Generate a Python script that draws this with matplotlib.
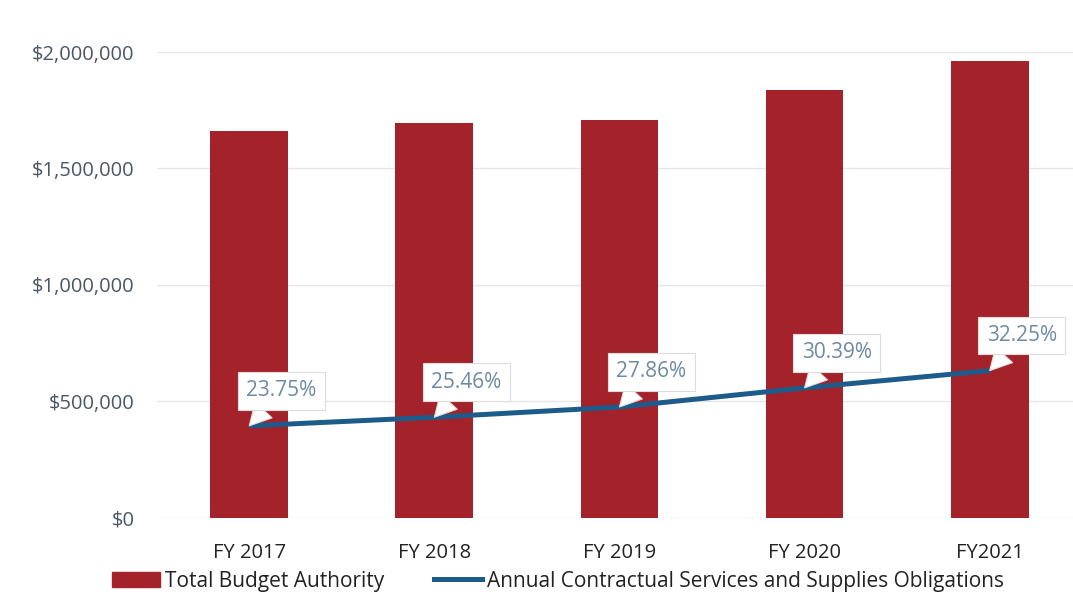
import matplotlib.pyplot as plt
import matplotlib.ticker as mticker
from matplotlib.patches import Patch
from matplotlib.lines import Line2D

# values
years = ["FY 2017", "FY 2018", "FY 2019", "FY 2020", "FY2021"]
budget = [1661000, 1695000, 1708000, 1837000, 1961000]
obligations = [395000, 432000, 476000, 558000, 632000]
pct_labels = ["23.75%", "25.46%", "27.86%", "30.39%", "32.25%"]

bar_color = "#a4222a"
line_color = "#1d5c8a"
tick_color = "#4a5866"
label_color = "#6d8aa3"

plt.rcParams["font.family"] = ["Open Sans", "DejaVu Sans"]

fig = plt.figure(figsize=(10.73, 5.98), dpi=100)
ax = fig.add_axes([0.146, 0.134, 0.854, 0.779])

x = list(range(len(years)))
ax.bar(x, budget, width=0.42, color=bar_color, zorder=2)
ax.plot(x, obligations, color=line_color, linewidth=3.6, solid_capstyle="butt", zorder=3)

# callout labels above each point of the line
for i, (val, lab) in enumerate(zip(obligations, pct_labels)):
    ax.annotate(lab, xy=(i, val), xytext=(32, 35), textcoords="offset pixels",
                ha="center", va="center", fontsize=15, color=label_color,
                annotation_clip=False, zorder=5,
                bbox=dict(boxstyle="square,pad=0.4", fc="white", ec="#dcdcdc", lw=0.8),
                arrowprops=dict(arrowstyle="wedge,tail_width=1.1,shrink_factor=0.5",
                                fc="white", ec="#dcdcdc", lw=0.8,
                                shrinkA=0, shrinkB=0))

ax.set_xlim(-0.5, 4.45)
ax.set_ylim(0, 2000000)
ax.yaxis.set_major_locator(mticker.MultipleLocator(500000))
ax.yaxis.set_major_formatter(mticker.FuncFormatter(lambda v, p: f"${v:,.0f}"))
ax.set_xticks(x)
ax.set_xticklabels(years)

ax.grid(axis="y", color="#e6e6e6", linewidth=1, zorder=0)
for s in ax.spines.values():
    s.set_visible(False)
ax.tick_params(axis="both", length=0, colors=tick_color, labelsize=14.5)
ax.tick_params(axis="x", pad=18, colors="#222222")
ax.tick_params(axis="y", pad=16)

handles = [Patch(color=bar_color), Line2D([], [], color=line_color, linewidth=3.6)]
fig.legend(handles, ["Total Budget Authority",
                     "Annual Contractual Services and Supplies Obligations"],
           loc="center", bbox_to_anchor=(0.52, 0.028), ncol=2, frameon=False,
           fontsize=15, handlelength=2.3, handleheight=0.8, handletextpad=0.25,
           columnspacing=2.4, labelcolor="#222222")

fig.savefig("out.png", dpi=100)
